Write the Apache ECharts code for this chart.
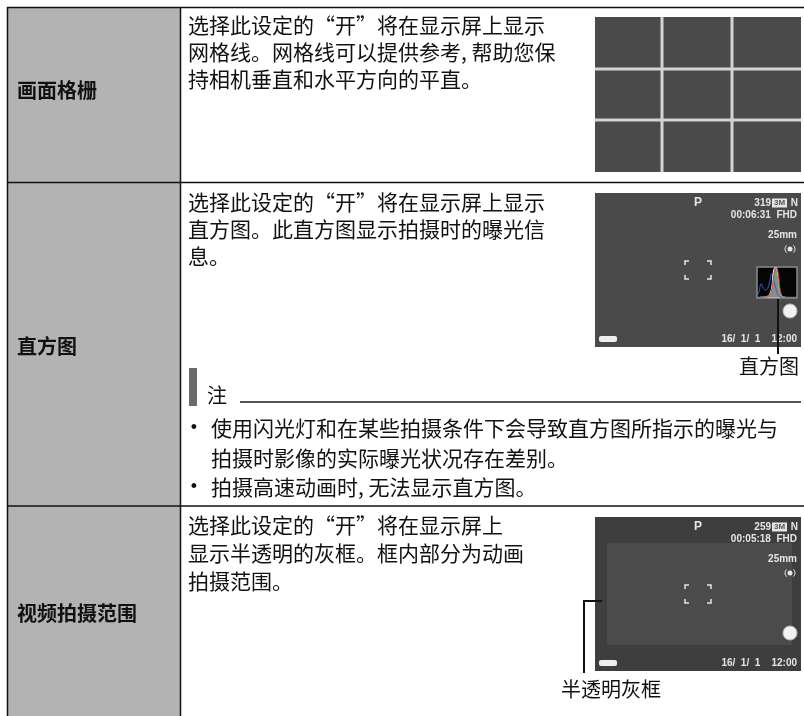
<!DOCTYPE html>
<html>
<head>
<meta charset="utf-8">
<script src="https://cdn.jsdelivr.net/npm/echarts@6/dist/echarts.min.js"></script>
<style>
html,body{margin:0;padding:0;background:#fff;}
#c{width:804px;height:716px;}
</style>
</head>
<body>
<div id="c"></div>
<script>
// ---- content (text) ----
const rowLabels = ['画面格栅', '直方图', '视频拍摄范围'];
const row1Lines = ['选择此设定的“开”将在显示屏上显示', '网格线。网格线可以提供参考, 帮助您保', '持相机垂直和水平方向的平直。'];
const row2Lines = ['选择此设定的“开”将在显示屏上显示', '直方图。此直方图显示拍摄时的曝光信', '息。'];
const row3Lines = ['选择此设定的“开”将在显示屏上', '显示半透明的灰框。框内部分为动画', '拍摄范围。'];
const noteTitle = '注';
const noteBullet1 = ['使用闪光灯和在某些拍摄条件下会导致直方图所指示的曝光与', '拍摄时影像的实际曝光状况存在差别。'];
const noteBullet2 = ['拍摄高速动画时, 无法显示直方图。'];
const captions = ['直方图', '半透明灰框'];
const screen2Info = ['P', '319', '3M', 'N', '00:06:31  FHD', '25mm', '16/  1/  1    12:00'];
const screen3Info = ['P', '259', '3M', 'N', '00:05:18  FHD', '25mm', '16/  1/  1    12:00'];

// ---- histogram (small inset) values ----
const histBins = ['0','1','2','3','4','5','6','7','8','9','10','11','12','13','14','15','16','17','18','19'];
const histWhite = [2, 2, 3, 3, 4, 6, 12, 35, 92, 98, 62, 16, 5, 3, 2, 2, 2, 2, 2, 2];
const histRed   = [1, 1, 2, 2, 3, 5, 9, 26, 72, 96, 82, 26, 7, 3, 2, 1, 1, 1, 1, 1];
const histGreen = [1, 1, 1, 2, 3, 5, 8, 22, 62, 86, 52, 13, 4, 2, 1, 1, 1, 1, 1, 1];
const histBlue  = [4, 22, 46, 32, 26, 30, 52, 78, 58, 30, 10, 4, 2, 1, 1, 1, 1, 1, 1, 1];

const CJK = '"Noto Sans CJK SC", "Noto Sans", sans-serif';
const LAT = '"Liberation Sans", Arial, sans-serif';

const g = [];
function rect(x, y, w, h, fill, extra) { g.push(Object.assign({type: 'rect', shape: {x: x, y: y, width: w, height: h}, style: {fill: fill}}, extra || {})); }
function line(x1, y1, x2, y2, stroke, lw) { g.push({type: 'line', shape: {x1: x1, y1: y1, x2: x2, y2: y2}, style: {stroke: stroke, lineWidth: lw}}); }
function text(t, x, y, font, fill, align) {
  g.push({type: 'text', x: x, y: y, style: {text: t, font: font, fill: fill || '#111', align: align || 'left', verticalAlign: 'middle'}});
}
function poly(pts, stroke, lw) { g.push({type: 'polyline', shape: {points: pts}, style: {stroke: stroke, lineWidth: lw, fill: null}}); }

// ---- table ----
rect(7, 7, 173, 709, '#b3b3b3');
line(7, 7.5, 804, 7.5, '#111', 1.5);
line(7, 182.5, 804, 182.5, '#111', 1.5);
line(7, 506, 804, 506, '#111', 1.5);
line(7.5, 7, 7.5, 716, '#111', 1.5);
line(180.5, 7, 180.5, 716, '#111', 1.5);

const labelY = [90, 346, 613];
rowLabels.forEach(function (l, i) { text(l, 17, labelY[i], 'bold 20px ' + CJK, '#111'); });

const bodyFont = '21px ' + CJK;
[25, 52, 79].forEach(function (y, i) { text(row1Lines[i], 188, y, bodyFont); });
[202, 229, 256].forEach(function (y, i) { text(row2Lines[i], 188, y, bodyFont); });
[525, 553, 581].forEach(function (y, i) { text(row3Lines[i], 188, y, bodyFont); });

// note block
rect(189, 368, 8, 38, '#6a6a6a');
text(noteTitle, 207, 395, '20px ' + CJK, '#111');
line(240, 402, 801, 402, '#555', 2);
text('•', 194, 428, '18px ' + LAT, '#111', 'center');
text(noteBullet1[0], 211, 428, bodyFont);
text(noteBullet1[1], 211, 458, bodyFont);
text('•', 194, 487, '18px ' + LAT, '#111', 'center');
text(noteBullet2[0], 211, 487, bodyFont);

// ---- grid image (row 1) ----
rect(595, 17, 206, 155, '#4a4a4a');
line(662, 17, 662, 172, '#d4d4d4', 3);
line(732, 17, 732, 172, '#d4d4d4', 3);
line(595, 69, 801, 69, '#d4d4d4', 3);
line(595, 120, 801, 120, '#d4d4d4', 3);

// ---- camera screens ----
function screen(oy, info, frame) {
  const ox = 595;
  rect(ox, oy, 206, 154, frame ? '#3e3e3e' : '#4a4a4a');
  if (frame) rect(ox + 12, oy + 26, 185, 102, '#4b4b4b');
  const f = 'bold 10px ' + LAT, c = '#e6e6e6';
  text(info[0], ox + 103, oy + 10, 'bold 12px ' + LAT, c, 'center');
  text(info[1], ox + 176, oy + 10, f, c, 'right');
  rect(ox + 177, oy + 5.5, 15, 9, '#e6e6e6');
  text(info[2], ox + 184.5, oy + 10, 'bold 8px ' + LAT, '#555', 'center');
  text(info[3], ox + 203, oy + 10, f, c, 'right');
  text(info[4], ox + 202, oy + 22, f, c, 'right');
  text(info[5], ox + 202, oy + 42, f, c, 'right');
  // stabiliser icon
  g.push({type: 'circle', shape: {cx: ox + 195, cy: oy + 56, r: 2.5}, style: {fill: c}});
  g.push({type: 'arc', shape: {cx: ox + 195, cy: oy + 56, r: 5, startAngle: 2.3, endAngle: 4.0}, style: {stroke: c, lineWidth: 1, fill: null}});
  g.push({type: 'arc', shape: {cx: ox + 195, cy: oy + 56, r: 5, startAngle: -0.85, endAngle: 0.85}, style: {stroke: c, lineWidth: 1, fill: null}});
  // focus brackets
  const bx1 = ox + 90, bx2 = ox + 116, by1 = oy + 68, by2 = oy + 86, a = 4;
  poly([[bx1, by1 + a], [bx1, by1], [bx1 + a, by1]], c, 1.5);
  poly([[bx2 - a, by1], [bx2, by1], [bx2, by1 + a]], c, 1.5);
  poly([[bx1, by2 - a], [bx1, by2], [bx1 + a, by2]], c, 1.5);
  poly([[bx2 - a, by2], [bx2, by2], [bx2, by2 - a]], c, 1.5);
  // shutter circle
  g.push({type: 'circle', shape: {cx: ox + 195, cy: oy + (frame ? 116 : 118), r: 7}, style: {fill: '#f2f2f2', stroke: '#bbb', lineWidth: 1}});
  // battery
  rect(ox + 4, oy + 143, 18, 6, '#eeeeee', {shape: {x: ox + 4, y: oy + 143, width: 18, height: 6, r: 2}});
  text(info[6], ox + 202, oy + 146, f, c, 'right');
}
screen(193, screen2Info, false);
screen(517, screen3Info, true);

// callouts
line(778, 299, 778, 354, '#111', 2);
text(captions[0], 799, 366, '20px ' + CJK, '#111', 'right');
line(583, 601, 602, 601, '#111', 2);
line(584, 600, 584, 673, '#111', 2);
text(captions[1], 561, 689, '20px ' + CJK, '#111', 'left');

function histSeries(data, color, area) {
  return {type: 'line', data: data, smooth: true, symbol: 'none', z: 11, silent: true,
    lineStyle: {color: color, width: 1}, areaStyle: area ? {color: area} : undefined};
}

const chart = echarts.init(document.getElementById('c'), null, {renderer: 'canvas', width: 804, height: 716});
chart.setOption({
  animation: false,
  backgroundColor: '#ffffff',
  graphic: {elements: g},
  grid: {left: 757, top: 267, width: 40, height: 31, show: true, backgroundColor: '#050505', borderColor: '#8a8a8a', borderWidth: 1.5, z: 10},
  xAxis: {type: 'category', data: histBins, show: false, boundaryGap: false},
  yAxis: {type: 'value', min: 0, max: 100, show: false},
  series: [
    histSeries(histBlue, '#3a5fd0', null),
    histSeries(histWhite, '#ffffff', 'rgba(230,230,230,0.85)'),
    histSeries(histGreen, '#40c060', null),
    histSeries(histRed, '#e04040', null)
  ]
});
</script>
</body>
</html>
